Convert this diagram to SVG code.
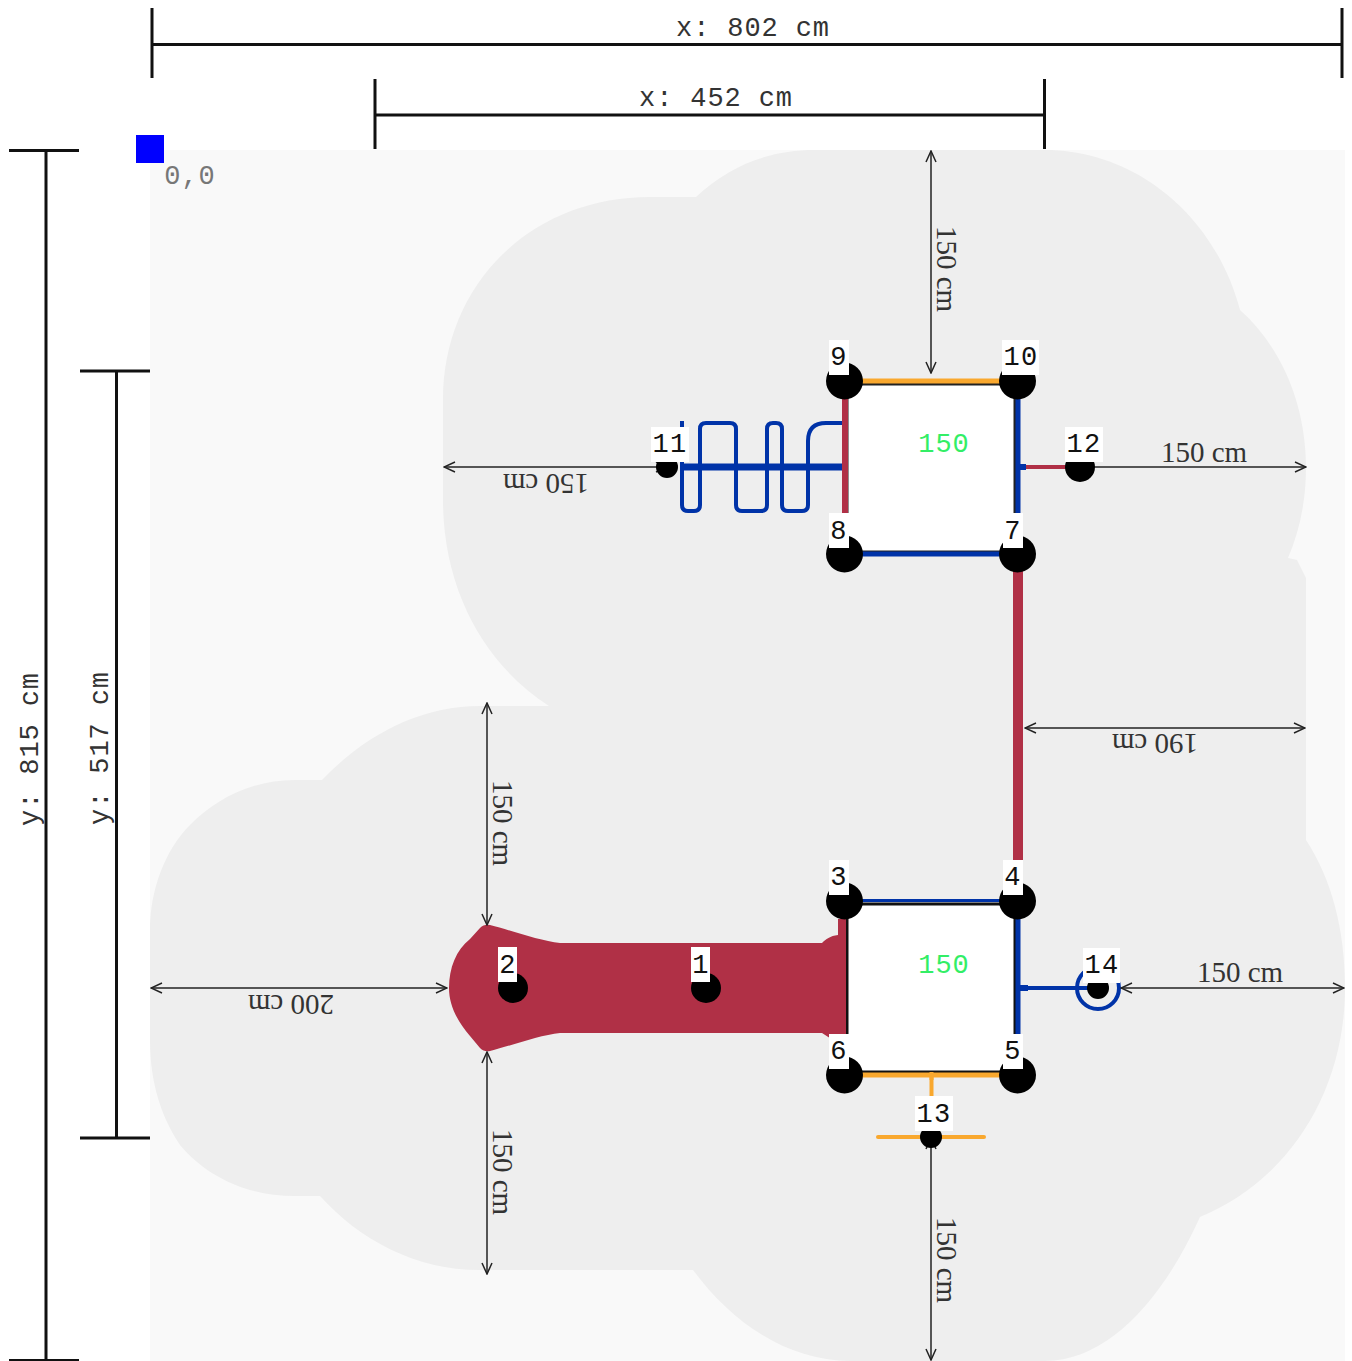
<svg xmlns="http://www.w3.org/2000/svg" width="1352" height="1361" viewBox="0 0 1352 1361">
<style>
.mono{font-family:"Liberation Mono",monospace;font-size:27px;letter-spacing:0.9px;text-anchor:middle}
.dimt{fill:#333}
.lab{font-family:"Liberation Mono",monospace;font-size:27px;letter-spacing:1.2px;text-anchor:middle;fill:#111}
.ser{font-family:"Liberation Serif",serif;font-size:29px;text-anchor:middle;fill:#333}
.h{fill:#33ee66}
.dim{stroke:#111;stroke-width:3;fill:none}
.arr{stroke:#222;stroke-width:1.5;fill:none;marker-start:url(#ah);marker-end:url(#ah)}
.bg{fill:#fff}
.k{fill:#000}
.rd{stroke:#b03046}.bl{stroke:#0033a8}.or{stroke:#f9a82e}
.bar{fill:none}
</style>
<defs>
<marker id="ah" viewBox="-12 -6 13 12" refX="0" refY="0" markerWidth="13" markerHeight="12" markerUnits="userSpaceOnUse" orient="auto-start-reverse">
<path d="M-11-5L0 0L-11 5" fill="none" stroke="#222" stroke-width="1.5"/>
</marker>
</defs>
<rect width="1352" height="1361" fill="#fff"/>
<g id="ground">
<rect x="150" y="150" width="1195" height="1211" fill="#f9f9f9"/>
<path fill="#eeeeee" d="M549 706C485 665 443 590 443 500L443 400C443 285 530 197 650 197L696 197C730 165 770 150 815 150L1045 150C1135 150 1215 215 1240 310C1285 350 1306 410 1306 467C1306 500 1300 530 1288 558L1297 560L1306 578L1306 840C1332 880 1345 930 1345 988C1345 1090 1290 1180 1200 1217C1165 1295 1110 1361 1045 1361L850 1361C785 1361 730 1320 693 1270L480 1270C415 1270 360 1240 320 1196L295 1196C245 1196 205 1175 180 1145C160 1115 150 1080 150 1040L150 930C150 890 165 850 190 825C215 800 250 780 295 780L322 780C365 735 420 706 480 706Z"/>
</g>
<g id="origin">
<rect x="136" y="135" width="28" height="28" fill="#0000ff"/>
<text class="mono" x="190" y="184" fill="#777">0,0</text>
</g>
<g id="dimensions">
<path class="dim" d="M152 8V78M152 44.500H1342M1342 8V78M375 79V149M375 115H1044.500M1044.500 79V149M9 150.500H79M46 150V1360M9 1360.500H79M80 371H150M116.500 371V1138M80 1138H150"/>
<text class="mono dimt" x="753" y="36">x: 802 cm</text>
<text class="mono dimt" x="716" y="106">x: 452 cm</text>
<text class="mono dimt" transform="translate(38 749) rotate(-90)">y: 815 cm</text>
<text class="mono dimt" transform="translate(108 748) rotate(-90)">y: 517 cm</text>
</g>
<g id="slide">
<path fill="#b03046" d="M848 919L838 919L838 935C830 936 826 939 822 943L560 943C540 941 510 930 490 925Q484 924 480 928L470 939C456 950 449 968 449 988C449 1006 458 1022 470 1036L480 1048Q484 1052 490 1051C510 1046 540 1035 560 1033L822 1033L836 1042L848 1042Z"/>
</g>
<g id="connectors">
<path fill="none" stroke="#b03046" stroke-width="10" d="M1018 554V901"/>
<path fill="none" stroke="#0033a8" stroke-width="4" stroke-linejoin="round" d="M682 421V505Q682 511 688 511H694Q700 511 700 505V429Q700 423 706 423H730Q736 423 736 429V505Q736 511 742 511H761Q767 511 767 505V429Q767 423 773 423H776Q782 423 782 429V505Q782 511 788 511H802Q808 511 808 505V441Q808 423 826 423H845"/>
<path fill="none" stroke="#0033a8" stroke-width="7" d="M680 467H843"/>
<path fill="none" stroke="#b03046" stroke-width="4" d="M1024 467H1080"/>
<path fill="none" stroke="#0033a8" stroke-width="6" d="M1017 467H1026"/>
<path fill="none" stroke="#0033a8" stroke-width="4" d="M1020 988H1098"/>
<path fill="none" stroke="#0033a8" stroke-width="6" d="M1017 988H1028"/>
<circle cx="1098" cy="988" r="21" fill="none" stroke="#0033a8" stroke-width="4"/>
<path fill="none" stroke="#f9a82e" stroke-width="4" stroke-linecap="round" d="M931.500 1072V1137M878 1137H984"/>
</g>
<g id="platform-upper">
<rect x="847" y="384" width="168" height="168" fill="#fff" stroke="#222" stroke-width="3"/>
<path class="bar or" stroke-width="5" d="M844 381H1017"/>
<path class="bar bl" stroke-width="5" d="M844 554H1017"/>
<path class="bar rd" stroke-width="6" d="M845 381V554"/>
<path class="bar bl" stroke-width="5" d="M1018 381V554"/>
<text class="mono h" x="944" y="452">150</text>
</g>
<g id="platform-lower">
<rect x="847" y="904" width="168" height="168" fill="#fff" stroke="#111" stroke-width="3"/>
<path class="bar bl" stroke-width="3" d="M844 900.500H1017"/>
<path class="bar or" stroke-width="5" d="M844 1075H1017"/>
<path class="bar rd" stroke-width="4" d="M844 901V1042"/>
<path class="bar bl" stroke-width="5" d="M1018 901V1075"/>
<path fill="none" stroke="#f9a82e" stroke-width="4" d="M931.500 1072V1080"/>
<text class="mono h" x="944" y="973">150</text>
</g>
<g id="measures">
<path class="arr" d="M931 151V373"/>
<path class="arr" d="M444 467H667"/>
<path class="arr" d="M1080 467H1306"/>
<path class="arr" d="M1025 728H1305"/>
<path class="arr" d="M487 703V925"/>
<path class="arr" d="M487 1052V1274"/>
<path class="arr" d="M151 988H447"/>
<path class="arr" d="M1121 988H1344"/>
<path class="arr" d="M931 1138V1360"/>
<text class="ser" transform="translate(937 269) rotate(90)">150 cm</text>
<text class="ser" transform="translate(546 474) rotate(180)">150 cm</text>
<text class="ser" x="1204" y="462">150 cm</text>
<text class="ser" transform="translate(1155 734) rotate(180)">190 cm</text>
<text class="ser" transform="translate(493 823) rotate(90)">150 cm</text>
<text class="ser" transform="translate(493 1172) rotate(90)">150 cm</text>
<text class="ser" transform="translate(291 995) rotate(180)">200 cm</text>
<text class="ser" x="1240" y="982">150 cm</text>
<text class="ser" transform="translate(937 1260) rotate(90)">150 cm</text>
</g>
<g id="node-1"><circle class="k" cx="706" cy="988" r="15"/><rect class="bg" x="691" y="947" width="19" height="35"/><text class="lab" x="701" y="973">1</text></g>
<g id="node-2"><circle class="k" cx="513" cy="988" r="15"/><rect class="bg" x="498" y="947" width="19" height="35"/><text class="lab" x="508" y="973">2</text></g>
<g id="node-3"><circle class="k" cx="844.500" cy="901" r="18.500"/><rect class="bg" x="829" y="860" width="20" height="35"/><text class="lab" x="839" y="885">3</text></g>
<g id="node-4"><circle class="k" cx="1017.500" cy="901" r="18.500"/><rect class="bg" x="1003" y="860" width="20" height="35"/><text class="lab" x="1013" y="885">4</text></g>
<g id="node-5"><circle class="k" cx="1017.500" cy="1075" r="18.500"/><rect class="bg" x="1003" y="1034" width="20" height="35"/><text class="lab" x="1013" y="1059">5</text></g>
<g id="node-6"><circle class="k" cx="844.500" cy="1075" r="18.500"/><rect class="bg" x="829" y="1034" width="20" height="35"/><text class="lab" x="839" y="1059">6</text></g>
<g id="node-7"><circle class="k" cx="1017.500" cy="554" r="18.500"/><rect class="bg" x="1003" y="513" width="20" height="35"/><text class="lab" x="1013" y="539">7</text></g>
<g id="node-8"><circle class="k" cx="844.500" cy="554" r="18.500"/><rect class="bg" x="829" y="513" width="20" height="35"/><text class="lab" x="839" y="539">8</text></g>
<g id="node-9"><circle class="k" cx="844.500" cy="381" r="18.500"/><rect class="bg" x="829" y="340" width="20" height="35"/><text class="lab" x="839" y="365">9</text></g>
<g id="node-10"><circle class="k" cx="1017.500" cy="381" r="18.500"/><rect class="bg" x="1002" y="340" width="37" height="35"/><text class="lab" x="1021" y="365">10</text></g>
<g id="node-11"><circle class="k" cx="667" cy="467" r="11"/><rect class="bg" x="651" y="427" width="38" height="35"/><text class="lab" x="670" y="452">11</text></g>
<g id="node-12"><circle class="k" cx="1080" cy="467" r="15"/><rect class="bg" x="1065" y="427" width="38" height="35"/><text class="lab" x="1084" y="452">12</text></g>
<g id="node-13"><circle class="k" cx="931" cy="1137" r="11"/><rect class="bg" x="915" y="1096" width="38" height="35"/><text class="lab" x="934" y="1122">13</text></g>
<g id="node-14"><circle class="k" cx="1098" cy="988" r="11"/><rect class="bg" x="1083" y="948" width="37" height="35"/><text class="lab" x="1102" y="973">14</text></g>
</svg>
